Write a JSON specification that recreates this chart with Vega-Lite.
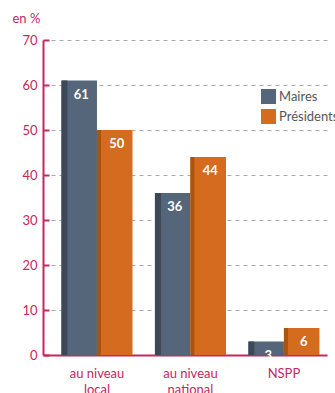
{
  "$schema": "https://vega.github.io/schema/vega-lite/v6.json",
  "autosize": "none",
  "width": 284,
  "height": 315,
  "padding": {"left": 43, "top": 40, "right": 8, "bottom": 38},
  "background": "white",
  "config": {
    "font": "Lato",
    "view": {"stroke": null}
  },
  "data": {
    "values": [
      {"cat": "au niveau local", "serie": "Maires", "value": 61},
      {"cat": "au niveau local", "serie": "Présidents", "value": 50},
      {"cat": "au niveau national", "serie": "Maires", "value": 36},
      {"cat": "au niveau national", "serie": "Présidents", "value": 44},
      {"cat": "NSPP", "serie": "Maires", "value": 3},
      {"cat": "NSPP", "serie": "Présidents", "value": 6}
    ]
  },
  "encoding": {
    "x": {
      "field": "cat",
      "type": "nominal",
      "sort": null,
      "scale": {"paddingInner": 0.24, "paddingOuter": 0.139, "align": 0.71},
      "axis": {
        "title": null,
        "labelAngle": 0,
        "ticks": false,
        "domainColor": "#c4285f",
        "domainWidth": 2,
        "labelColor": "#c4285f",
        "labelFontSize": 13,
        "labelPadding": 12,
        "labelLineHeight": 16,
        "labelExpr": "datum.label == 'NSPP' ? 'NSPP' : ['au niveau', slice(datum.label, 10)]"
      }
    },
    "y": {
      "field": "value",
      "type": "quantitative",
      "scale": {"domain": [0, 70], "nice": false},
      "axis": {
        "values": [0, 10, 20, 30, 40, 50, 60, 70],
        "title": "en %",
        "titleAngle": 0,
        "titleX": -31,
        "titleY": -18,
        "titleAlign": "left",
        "titleBaseline": "alphabetic",
        "titleColor": "#c4285f",
        "titleFontSize": 13,
        "titleFontWeight": "normal",
        "labelColor": "#c4285f",
        "labelFontSize": 13,
        "labelPadding": 12,
        "domainColor": "#c4285f",
        "domainWidth": 2,
        "tickColor": "#c4285f",
        "tickWidth": 2,
        "tickSize": -6,
        "grid": true,
        "gridColor": "#aaaaaa",
        "gridDash": [4, 4],
        "gridWidth": 1
      }
    }
  },
  "layer": [
    {
      "mark": {"type": "bar"},
      "encoding": {
        "xOffset": {"field": "serie", "type": "nominal", "scale": {"paddingInner": 0}},
        "color": {
          "field": "serie",
          "type": "nominal",
          "scale": {"domain": ["Maires", "Présidents"], "range": ["#56667a", "#d46b1f"]},
          "legend": {
            "title": null,
            "orient": "none",
            "legendX": 218,
            "legendY": 49,
            "symbolType": "square",
            "symbolSize": 225,
            "symbolStrokeWidth": 0,
            "labelFontSize": 13,
            "labelColor": "#555555",
            "labelOffset": 3,
            "rowPadding": 5
          }
        }
      }
    },
    {
      "transform": [{"filter": "datum.serie == 'Maires'"}],
      "mark": {"type": "bar", "width": 6, "color": "#3c4858"},
      "encoding": {"xOffset": {"value": 3}}
    },
    {
      "transform": [{"filter": "datum.serie == 'Présidents'"}],
      "mark": {"type": "bar", "width": 4, "color": "#a9540f"},
      "encoding": {"xOffset": {"value": 37.5}}
    },
    {
      "mark": {"type": "text", "color": "white", "fontWeight": "bold", "fontSize": 13, "baseline": "top", "dy": 8, "dx": 2},
      "encoding": {
        "xOffset": {"field": "serie", "type": "nominal", "scale": {"paddingInner": 0}},
        "text": {"field": "value", "type": "quantitative"}
      }
    }
  ]
}
